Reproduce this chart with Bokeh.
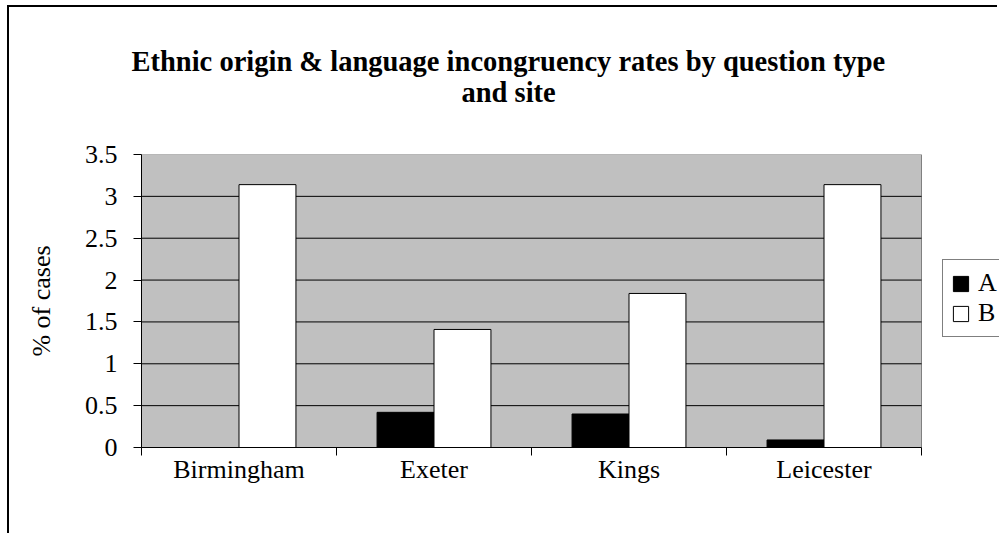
from bokeh.plotting import figure
from bokeh.models import (ColumnDataSource, LinearAxis, FixedTicker, Range1d,
                          Title, Legend, LegendItem)
from bokeh.transform import dodge
from bokeh.embed import file_html
from bokeh.resources import INLINE

sites = ["Birmingham", "Exeter", "Kings", "Leicester"]
series_a = [0.0, 0.42, 0.40, 0.09]
series_b = [3.14, 1.41, 1.84, 3.14]
y_ticks = [0, 0.5, 1, 1.5, 2, 2.5, 3, 3.5]
y_tick_labels = ["0", "0.5", "1", "1.5", "2", "2.5", "3", "3.5"]
title_lines = ["Ethnic origin & language incongruency rates by question type", "and site"]
y_label = "% of cases"
legend_labels = ["A", "B"]

FONT = "Liberation Serif"
n = len(sites)
y_max = y_ticks[-1]

# layout constants (pixels)
PLOT_W = 780      # width of the grey plot area
EXTRA_W = 78      # white strip right of the plot area (holds the legend)

src = ColumnDataSource(dict(x=[i + 0.5 for i in range(n)], a=series_a, b=series_b))

p = figure(width=990, height=528, output_backend="svg", toolbar_location=None,
           x_range=Range1d(0, n * (1 + EXTRA_W / PLOT_W)), y_range=Range1d(0, y_max),
           x_axis_type=None, y_axis_type=None,
           min_border_left=132, min_border_top=147, min_border_right=0, min_border_bottom=88)
p.margin = (5, 0, 0, 7)
p.styles = {"border-top": "2px solid black", "border-left": "2px solid black"}
p.background_fill_color = "white"
p.border_fill_color = "white"
p.outline_line_color = None
p.xgrid.visible = False
p.ygrid.visible = False

# grey plot area and horizontal gridlines
p.quad(left=0, right=n, bottom=0, top=y_max, fill_color="#c0c0c0",
       line_color="#808080", line_width=1)
grid_y = y_ticks[1:-1]
p.segment(x0=[0] * len(grid_y), x1=[n] * len(grid_y), y0=grid_y, y1=grid_y,
          line_color="black", line_width=1)

bw = 0.292
ra = p.vbar(x=dodge("x", -bw / 2, range=p.x_range), top="a", width=bw, source=src,
            fill_color="black", line_color="black", line_width=1)
rb = p.vbar(x=dodge("x", bw / 2, range=p.x_range), top="b", width=bw, source=src,
            fill_color="white", line_color="black", line_width=1)

# y axis
yax = LinearAxis(ticker=FixedTicker(ticks=y_ticks),
                 major_label_overrides={t: l for t, l in zip(y_ticks, y_tick_labels)})
yax.axis_label = y_label
yax.axis_label_text_font = FONT
yax.axis_label_text_font_style = "normal"
yax.axis_label_text_font_size = "26px"
yax.axis_label_text_color = "black"
yax.axis_label_standoff = 26
yax.major_label_text_font = FONT
yax.major_label_text_font_size = "26px"
yax.major_label_text_color = "black"
yax.major_label_standoff = 16
yax.major_tick_out = 8
yax.major_tick_in = 0
yax.minor_tick_line_color = None
yax.axis_line_color = "black"
yax.major_tick_line_color = "black"
p.add_layout(yax, "left")

# x axis: ticks at category boundaries
xax = LinearAxis(ticker=FixedTicker(ticks=list(range(n + 1))),
                 major_label_overrides={i: "" for i in range(n + 1)}, bounds=(0, n))
xax.major_tick_out = 8
xax.major_tick_in = 0
xax.minor_tick_line_color = None
xax.major_label_standoff = 0
xax.major_label_text_font_size = "1px"
xax.axis_line_color = "black"
xax.major_tick_line_color = "black"
p.add_layout(xax, "below")

# x axis labels at category centres
cax = LinearAxis(ticker=FixedTicker(ticks=[i + 0.5 for i in range(n)]),
                 major_label_overrides={i + 0.5: s for i, s in enumerate(sites)})
cax.axis_line_color = None
cax.major_tick_line_color = None
cax.minor_tick_line_color = None
cax.major_label_text_font = FONT
cax.major_label_text_font_size = "26px"
cax.major_label_text_color = "black"
cax.major_label_standoff = -7
p.add_layout(cax, "below")

# title: spacer nearest the frame, then line 2, then line 1
p.add_layout(Title(text=" ", text_font_size="28px", text_font=FONT, standoff=14), "above")
p.add_layout(Title(text=title_lines[1], align="left", offset=320, vertical_align="middle",
                   text_font=FONT, text_font_style="bold", text_font_size="28.5px",
                   text_color="black", standoff=-2), "above")
p.add_layout(Title(text=title_lines[0], align="left", offset=-10, vertical_align="middle",
                   text_font=FONT, text_font_style="bold", text_font_size="28.5px",
                   text_color="black", standoff=-2), "above")

legend = Legend(items=[LegendItem(label=legend_labels[0], renderers=[ra]),
                       LegendItem(label=legend_labels[1], renderers=[rb])],
                location=(PLOT_W + 21, 110))
legend.label_text_font = FONT
legend.label_text_font_size = "26px"
legend.label_text_color = "black"
legend.glyph_width = 19
legend.glyph_height = 19
legend.label_standoff = 8
legend.label_width = 40
legend.spacing = 0
legend.padding = 8
legend.margin = 0
legend.border_line_color = "black"
legend.border_line_width = 1
legend.background_fill_color = "white"
legend.background_fill_alpha = 1
p.add_layout(legend, "center")

open("out.html", "w").write(file_html(p, INLINE))
